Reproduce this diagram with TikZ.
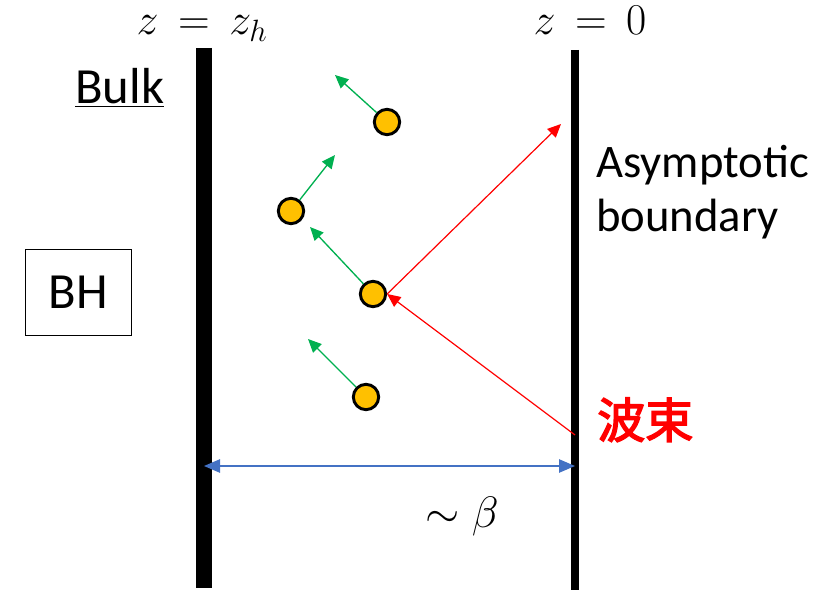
\RequirePackage{fix-cm}
\documentclass[tikz,border=0pt]{standalone}
\usepackage{fontspec}
\setsansfont{Carlito}
\newfontfamily\cjk[AutoFakeBold=3]{Noto Sans CJK SC}
\usetikzlibrary{arrows.meta}
\definecolor{ballfill}{HTML}{FFC000}
\definecolor{arrgreen}{HTML}{00B050}
\definecolor{arrblue}{HTML}{4472C4}
\definecolor{arrred}{HTML}{FF0000}
\begin{document}
\begin{tikzpicture}[x=0.75pt,y=-0.75pt,
  ball/.style={circle,draw=black,line width=2.2pt,fill=ballfill,minimum size=19pt,inner sep=0pt},
  wall/.style={line width=#1},
  garrow/.style={draw=arrgreen,line width=1pt,-{Triangle[length=10pt,width=9pt]}},
  rarrow/.style={draw=arrred,line width=0.9pt,-{Triangle[length=10pt,width=9pt]}},
  lbl/.style={font=\sffamily\fontsize{35}{42}\selectfont,inner sep=0pt},
  blbl/.style={font=\sffamily\fontsize{38}{44}\selectfont,inner sep=0pt},
  mlbl/.style={font=\fontsize{33}{38}\selectfont,inner sep=0pt}]
\useasboundingbox (0,0) rectangle (819,591);
% walls
\coordinate (lt) at (204,48);
\coordinate (lb) at (204,588);
\coordinate (rt) at (575,50);
\coordinate (rb) at (575,590);
\draw[wall=12pt] (lt) -- (lb);
\draw[wall=6pt] (rt) -- (rb);
% labels
\node[mlbl,anchor=base] (zh) at (202,35) {$z \mathrel{\,=\,} z_h$};
\node[mlbl,anchor=base] (z0) at (590,35) {$z \mathrel{\,=\,} 0$};
\node[blbl,anchor=base west] (bulk) at (75,104) {\underline{Bulk}};
\node[blbl,draw=black,line width=0.8pt,minimum width=79pt,minimum height=64pt] (bh) at (78.5,292.5) {BH};
\node[lbl,anchor=base west] (asy) at (596,178) {Asymptotic};
\node[lbl,anchor=base west] (bnd) at (596,232) {boundary};
\node[anchor=base west,inner sep=0pt,text=arrred,font=\cjk\bfseries\fontsize{36}{42}\selectfont] (bs) at (597,438) {波束};
\node[mlbl,anchor=base] (beta) at (462,528) {$\sim\beta$};
% balls
\node[ball] (b1) at (387,122) {};
\node[ball] (b2) at (291,211) {};
\node[ball] (b3) at (373,294) {};
\node[ball] (b4) at (366,397) {};
% green arrow tips
\coordinate (g1) at (335,75);
\coordinate (g2) at (335,155);
\coordinate (g3) at (310,227);
\coordinate (g4) at (308,339);
\draw[garrow] (b1) -- (g1);
\draw[garrow] (b2) -- (g2);
\draw[garrow] (b3) -- (g3);
\draw[garrow] (b4) -- (g4);
% red rays
\coordinate (rs) at (575,435);
\coordinate (re) at (561,124);
\draw[rarrow] (rs) -- (b3.east);
\draw[rarrow] (b3.east) -- (re);
% blue width arrow
\coordinate (bl) at (204,466);
\coordinate (br) at (575,466);
\draw[draw=arrblue,line width=1.2pt,{Triangle[length=12pt,width=10pt]}-{Triangle[length=12pt,width=10pt]}] (bl) -- (br);
\end{tikzpicture}
\end{document}
